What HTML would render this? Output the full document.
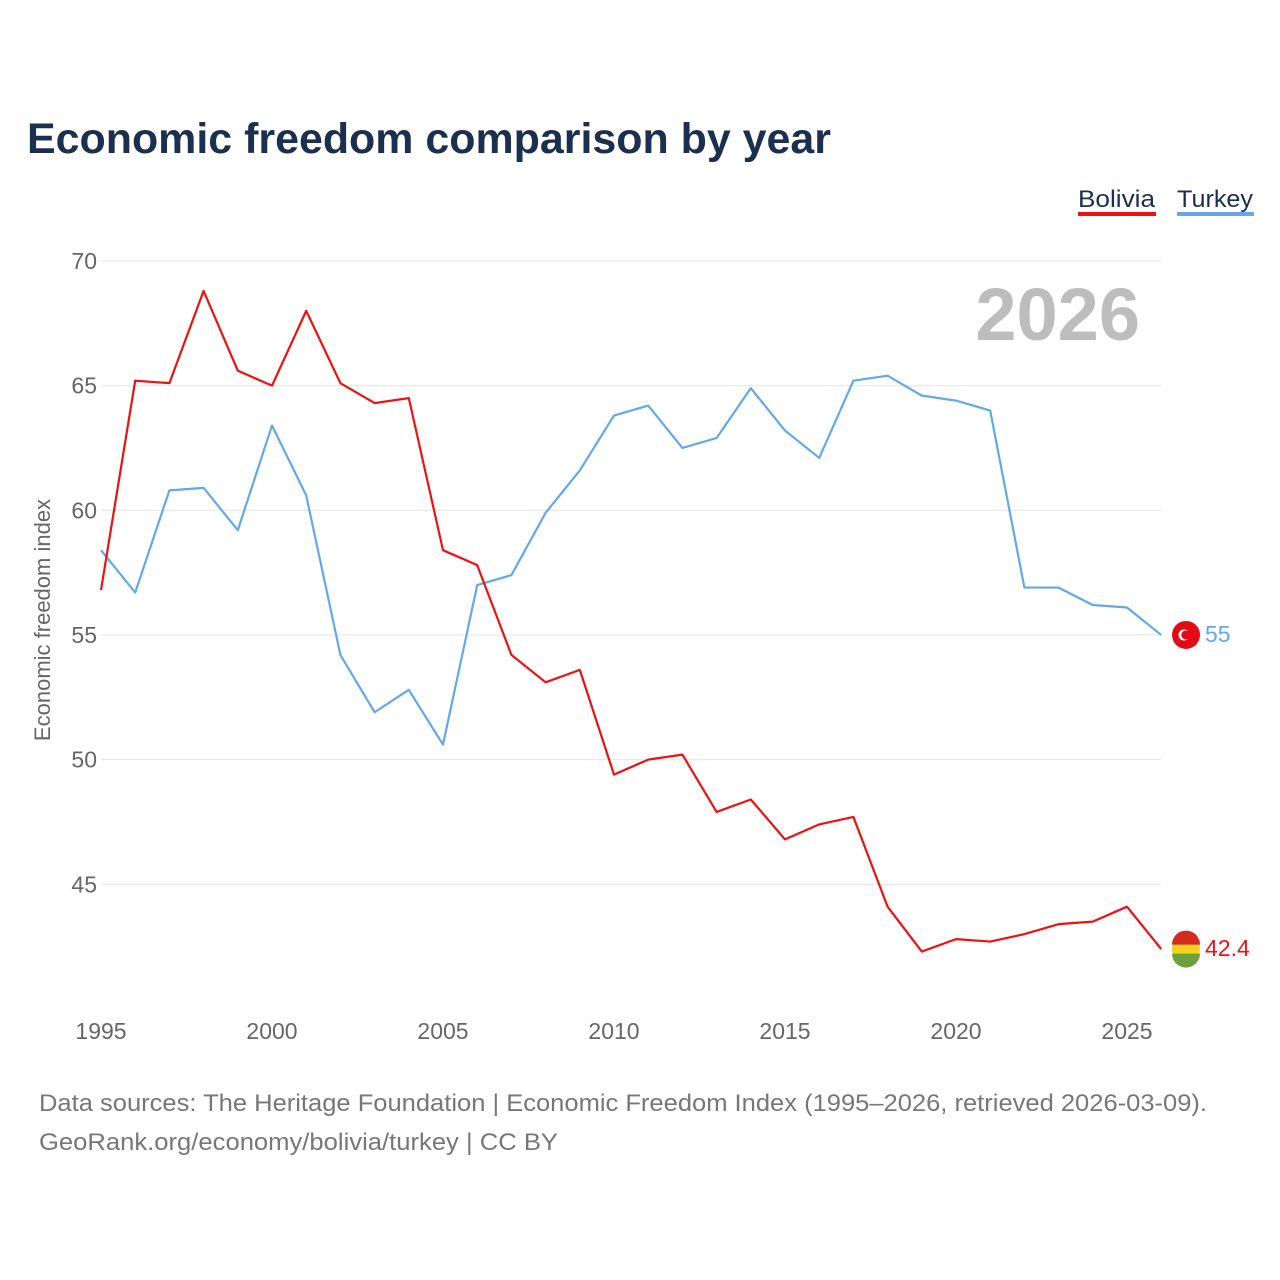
<!DOCTYPE html>
<html><head><meta charset="utf-8">
<style>
body{margin:0;background:#fff;font-family:"Liberation Sans",sans-serif;}
#wrap{position:relative;width:1280px;height:1280px;overflow:hidden;}
</style></head>
<body>
<div id="wrap">
<svg id="chart" width="1280" height="1280">
<text x="27" y="153" font-size="43" font-weight="bold" fill="#1b2f4e" textLength="804" lengthAdjust="spacingAndGlyphs">Economic freedom comparison by year</text>
<g><text x="1078" y="207" font-size="24" fill="#1b2f4e" textLength="77" lengthAdjust="spacingAndGlyphs">Bolivia</text><rect x="1078" y="212" width="78" height="4" fill="#ee1111"/></g>
<g><text x="1177" y="207" font-size="24" fill="#1b2f4e" textLength="76" lengthAdjust="spacingAndGlyphs">Turkey</text><rect x="1177" y="212" width="77" height="4" fill="#64a8ea"/></g>
<text x="1140" y="340" font-size="74" font-weight="bold" fill="#bdbdbd" text-anchor="end">2026</text>
<g id="grid"></g><g id="xt"></g><g id="lines"></g>
<text transform="translate(50,620) rotate(-90)" font-size="22" fill="#666" text-anchor="middle">Economic freedom index</text>
<text x="39" y="1111" font-size="24" fill="#777" textLength="1168" lengthAdjust="spacingAndGlyphs">Data sources: The Heritage Foundation | Economic Freedom Index (1995–2026, retrieved 2026-03-09).</text>
<text x="39" y="1150" font-size="24" fill="#777" textLength="519" lengthAdjust="spacingAndGlyphs">GeoRank.org/economy/bolivia/turkey | CC BY</text>
</svg>
</div>
<script>
const years=[1995,1996,1997,1998,1999,2000,2001,2002,2003,2004,2005,2006,2007,2008,2009,2010,2011,2012,2013,2014,2015,2016,2017,2018,2019,2020,2021,2022,2023,2024,2025,2026];
const bolivia=[56.8,65.2,65.1,68.8,65.6,65.0,68.0,65.1,64.3,64.5,58.4,57.8,54.2,53.1,53.6,49.4,50.0,50.2,47.9,48.4,46.8,47.4,47.7,44.1,42.3,42.8,42.7,43.0,43.4,43.5,44.1,42.4];
const turkey=[58.4,56.7,60.8,60.9,59.2,63.4,60.6,54.2,51.9,52.8,50.6,57.0,57.4,59.9,61.6,63.8,64.2,62.5,62.9,64.9,63.2,62.1,65.2,65.4,64.6,64.4,64.0,56.9,56.9,56.2,56.1,55.0];
const yTicks=[45,50,55,60,65,70];
const xTicks=[1995,2000,2005,2010,2015,2020,2025];
const X=y=>101+(y-1995)*34.2;
const Y=v=>261+(70-v)*24.93;
const NS="http://www.w3.org/2000/svg";
function mk(t,a,p){const e=document.createElementNS(NS,t);for(const k in a)e.setAttribute(k,a[k]);p.appendChild(e);return e;}
const g=document.getElementById('grid');
yTicks.forEach(v=>{
 const l=mk('line',{x1:101,x2:1161,y1:Y(v),y2:Y(v),stroke:'#e6e6e6','stroke-width':1},g);
 
 
 const t=mk('text',{x:97,y:Y(v)+8,'font-size':23,fill:'#666','text-anchor':'end'},g);t.textContent=v;
 
 
});
const xt=document.getElementById('xt');
xTicks.forEach(v=>{
 const t=mk('text',{x:X(v),y:1039,'font-size':23,fill:'#666','text-anchor':'middle'},xt);t.textContent=v;
 
 
});
const L=document.getElementById('lines');
function series(vals,col,name){
 const p=mk('polyline',{points:vals.map((v,i)=>X(years[i])+','+Y(v)).join(' '),fill:'none',stroke:col,'stroke-width':2.2,'stroke-linejoin':'round'},L);
 
 
 const last=vals[vals.length-1],cy=Y(last);
 const c=mk('circle',{cx:1186,cy:cy,r:14,fill:name=='bolivia'?'#f4d21f':'#e30a17'},L);
 
 
 if(name=='bolivia'){
  mk('path',{d:`M1172 ${cy-4.5} A14 14 0 0 1 1200 ${cy-4.5} Z`,fill:'#d52b1e'},L);
  mk('path',{d:`M1172 ${cy+4.5} A14 14 0 0 0 1200 ${cy+4.5} Z`,fill:'#6e9f3a'},L);
 }else{
  mk('circle',{cx:1184,cy:cy,r:5.5,fill:'#fff'},L);
  mk('circle',{cx:1185.8,cy:cy,r:4.5,fill:'#e30a17'},L);
 }
 const t=mk('text',{x:1205,y:cy+7,'font-size':23,fill:col},L);t.textContent=last;
 
 
}
series(turkey,'#64a8ea','turkey');
series(bolivia,'#ee1111','bolivia');
</script>
</body></html>
